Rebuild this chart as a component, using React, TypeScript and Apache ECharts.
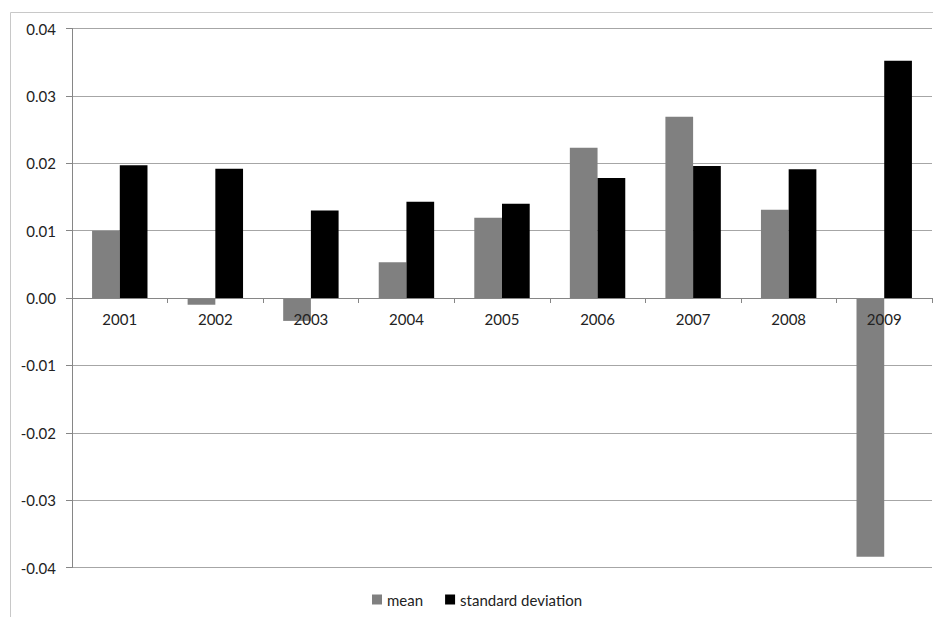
import React, { useEffect, useRef } from "react";
import * as echarts from "echarts";

const years = ["2001", "2002", "2003", "2004", "2005", "2006", "2007", "2008", "2009"];
const meanValues = [0.0100, -0.0010, -0.0034, 0.0053, 0.0119, 0.0223, 0.0269, 0.0131, -0.0384];
const stdValues = [0.0197, 0.0192, 0.0130, 0.0143, 0.0140, 0.0178, 0.0196, 0.0191, 0.0352];

export default function App() {
  const ref = useRef<HTMLDivElement>(null);
  useEffect(() => {
    const chart = echarts.init(ref.current!, null, { renderer: "svg" });
    const font = "Lato, 'Open Sans', sans-serif";
    const gridTop = 28.5;
    const gridBottom = 49.5;
    const plotHeight = 617 - gridTop - gridBottom;
    chart.setOption({
      animation: false,
      backgroundColor: "#ffffff",
      textStyle: { fontFamily: font },
      graphic: [
        {
          type: "polyline",
          shape: { points: [[10.5, 640], [10.5, 12.5], [960, 12.5]] },
          style: { stroke: "#c8c8c8", lineWidth: 1, fill: "none" },
          silent: true,
        },
      ],
      grid: { left: 72, right: 1, top: gridTop, bottom: gridBottom, containLabel: false },
      legend: {
        bottom: 5,
        left: 367,
        icon: "rect",
        itemWidth: 10,
        itemHeight: 10,
        itemGap: 22,
        textStyle: { fontSize: 15, color: "#222", fontFamily: font },
        data: ["mean", "standard deviation"],
      },
      xAxis: {
        type: "category",
        data: years,
        z: 5,
        position: "bottom",
        offset: -plotHeight / 2,
        axisLine: { onZero: false, lineStyle: { color: "#868686", width: 1 } },
        axisTick: { show: true, length: 5, lineStyle: { color: "#868686" } },
        axisLabel: { fontSize: 15, color: "#222", margin: 13, fontFamily: font },
        splitLine: { show: false },
      },
      yAxis: {
        type: "value",
        min: -0.04,
        max: 0.04,
        interval: 0.01,
        axisLine: { show: true, lineStyle: { color: "#868686", width: 1 } },
        axisTick: { show: true, length: 6, lineStyle: { color: "#868686" } },
        axisLabel: {
          fontSize: 15,
          color: "#222",
          margin: 16,
          fontFamily: font,
          formatter: (v: number) => v.toFixed(2),
        },
        splitLine: { show: true, lineStyle: { color: "#a6a6a6", width: 1 } },
      },
      series: [
        {
          name: "mean",
          type: "bar",
          data: meanValues,
          itemStyle: { color: "#808080" },
          barGap: "0%",
          barCategoryGap: "42%",
        },
        {
          name: "standard deviation",
          type: "bar",
          data: stdValues,
          itemStyle: { color: "#000000" },
          barGap: "0%",
          barCategoryGap: "42%",
        },
      ],
    });
    return () => chart.dispose();
  }, []);
  return (
    <div
      ref={ref}
      style={{ position: "fixed", left: 0, top: 0, width: 933, height: 617 }}
    />
  );
}
